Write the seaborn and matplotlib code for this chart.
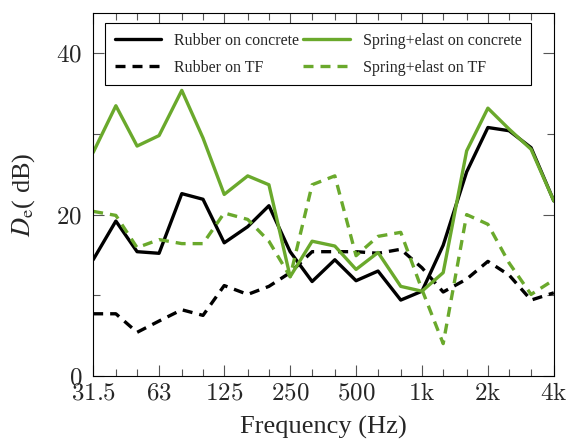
import matplotlib
matplotlib.use('Agg')
import matplotlib.pyplot as plt
import seaborn as sns
from matplotlib.ticker import FixedLocator, FixedFormatter, NullFormatter

# One-third octave band centre frequencies (Hz)
freqs = [31.5, 40, 50, 63, 80, 100, 125, 160, 200, 250, 315, 400, 500,
         630, 800, 1000, 1250, 1600, 2000, 2500, 3150, 4000]

# D_e values (dB) per mounting
rubber_concrete = [14.4, 19.2, 15.4, 15.2, 22.6, 21.9, 16.5, 18.5, 21.1, 15.4, 11.7,
                   14.4, 11.8, 13.0, 9.4, 10.5, 16.2, 25.3, 30.8, 30.4, 28.3, 21.7]
spring_concrete = [27.7, 33.5, 28.5, 29.8, 35.4, 29.5, 22.5, 24.8, 23.7, 12.3, 16.7,
                   16.1, 13.2, 15.3, 11.1, 10.5, 12.8, 27.9, 33.2, 30.6, 28.1, 21.7]
rubber_tf = [7.7, 7.7, 5.4, 6.8, 8.2, 7.5, 11.2, 10.1, 11.1, 12.8, 15.4,
             15.4, 15.4, 15.2, 15.7, 13.4, 10.4, 12.0, 14.2, 12.5, 9.4, 10.3]
spring_tf = [20.4, 19.9, 15.9, 16.9, 16.4, 16.4, 20.2, 19.4, 16.7, 12.3, 23.7,
             24.8, 14.9, 17.3, 17.8, 10.7, 4.0, 20.0, 18.8, 14.0, 10.1, 11.9]

tick_freqs = [31.5, 63, 125, 250, 500, 1000, 2000, 4000]
tick_labels = ['31.5', '63', '125', '250', '500', '1k', '2k', '4k']

sns.set_style('ticks')
plt.rcParams['font.family'] = ['Liberation Serif', 'DejaVu Serif']
plt.rcParams['mathtext.fontset'] = 'cm'

green = '#6aa92c'

fig, ax = plt.subplots(figsize=(5.68, 4.48), dpi=100)
fig.subplots_adjust(left=0.164, right=0.975, bottom=0.161, top=0.971)

series = [
    ('Rubber on concrete', rubber_concrete, 'black', False),
    ('Rubber on TF', rubber_tf, 'black', True),
    ('Spring+elast on concrete', spring_concrete, green, False),
    ('Spring+elast on TF', spring_tf, green, True),
]

for name, vals, color, dashed in series:
    sns.lineplot(x=freqs, y=vals, color=color, lw=2.4, ax=ax, label=name, sort=False)
    if dashed:
        ax.lines[-1].set_dashes((3.0, 2.1))

ax.set_xscale('log')
ax.set_xlim(31.5, 4000)
ax.set_ylim(0, 45)

ax.xaxis.set_major_locator(FixedLocator(tick_freqs))
ax.xaxis.set_major_formatter(FixedFormatter(['$' + t.replace('k', r'\mathrm{k}') + '$' for t in tick_labels]))
ax.xaxis.set_minor_locator(FixedLocator(freqs))
ax.xaxis.set_minor_formatter(NullFormatter())
ax.yaxis.set_major_locator(FixedLocator([0, 20, 40]))
ax.yaxis.set_major_formatter(FixedFormatter(['$0$', '$20$', '$40$']))
ax.yaxis.set_minor_locator(FixedLocator([10, 30]))

ax.tick_params(which='both', direction='in', top=True, right=True, width=0.8, color='#555555')
ax.tick_params(which='major', length=8, labelsize=18)
ax.tick_params(which='minor', length=5)
ax.tick_params(axis='x', which='major', pad=5)
ax.tick_params(axis='y', which='major', pad=8)
for sp in ax.spines.values():
    sp.set_linewidth(0.8)
    sp.set_color('black')

ax.set_xlabel('Frequency (Hz)', fontsize=19, labelpad=8)
ax.set_ylabel(r'$D_\mathrm{e}$( dB)', fontsize=19, math_fontfamily='stix', labelpad=14)

handles, labels = ax.get_legend_handles_labels()
leg = ax.legend(handles, labels,
                loc='upper center', bbox_to_anchor=(0.488, 0.972), borderaxespad=0,
                ncol=2, frameon=True, fancybox=False, edgecolor='black', framealpha=1,
                fontsize=11.5, handlelength=2.9, columnspacing=0.3, borderpad=0.6,
                labelspacing=0.7)
leg.get_frame().set_linewidth(0.8)

fig.savefig('out.png', dpi=100)
